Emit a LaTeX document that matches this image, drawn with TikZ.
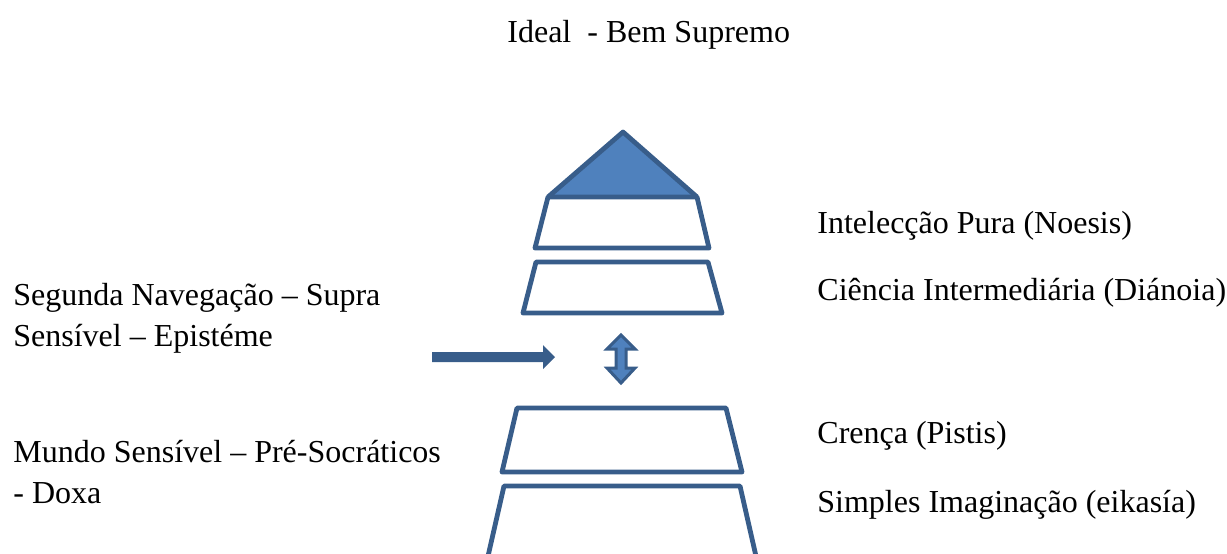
\documentclass[tikz,border=0pt]{standalone}
\usepackage{fontspec}
\setmainfont{Liberation Serif}
\begin{document}
\begin{tikzpicture}[x=0.5pt,y=-0.5pt,
    level/.style={draw=edgeblue,line width=2.4pt,line join=round},
    label/.style={anchor=base west,inner sep=0pt,align=left,
      font=\fontsize{16}{20.5}\selectfont}]
  \definecolor{edgeblue}{HTML}{385D8A}
  \definecolor{topblue}{HTML}{4F81BD}
  \useasboundingbox (0,0) rectangle (1227,553);
  \draw
    (507,42) node[label] (ideal){Ideal\ \ - Bem Supremo}
    (13,346) node[label] (segunda){Segunda Navegação – Supra\\Sensível – Epistéme}
    (13,503) node[label] (mundo){Mundo Sensível – Pré-Socráticos\\- Doxa}
    (817,233) node[label] (noesis){Intelecção Pura (Noesis)}
    (817,300) node[label] (dianoia){Ciência Intermediária (Diánoia)}
    (817,443) node[label] (pistis){Crença (Pistis)}
    (817,512) node[label] (eikasia){Simples Imaginação (eikasía)};
  \begin{scope}[level]
    \fill[topblue] (548,197) -- (623,132) -- (697,197) -- cycle;
    \draw (548,197) -- (623,132) -- (697,197);
    \draw (548,197) -- (697,197) -- (709,248) -- (535,248) -- cycle;
    \draw (536,262) -- (708,262) -- (722,313) -- (523,313) -- cycle;
    \draw (517,408) -- (726,408) -- (742,472) -- (502,472) -- cycle;
    \begin{scope}
      \clip (0,0) rectangle (1227,553);
      \draw (486,565) -- (504,486) -- (740,486) -- (758,565);
    \end{scope}
  \end{scope}
  % arrows
  \fill[edgeblue] (432,352) -- (543,352) -- (543,345) -- (555,357)
    -- (543,369) -- (543,362) -- (432,362) -- cycle;
  \filldraw[fill=topblue,draw=edgeblue,line width=1.5pt,line join=miter]
    (621,335) -- (635,349) -- (626,349) -- (626,368) -- (635,368)
    -- (621,383) -- (607,368) -- (616,368) -- (616,349) -- (607,349) -- cycle;
\end{tikzpicture}
\end{document}
